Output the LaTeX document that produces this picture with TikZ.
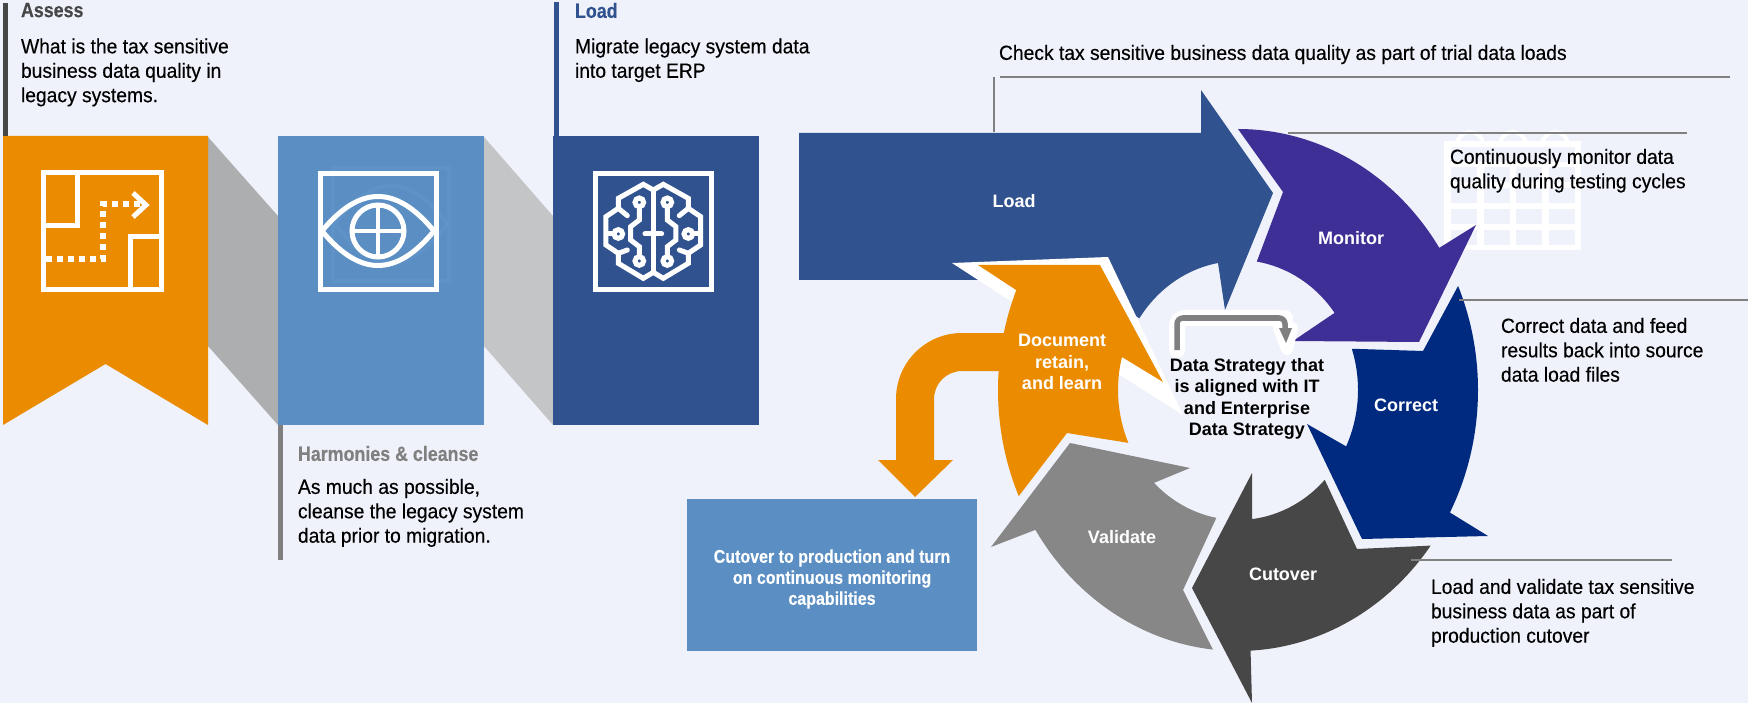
\documentclass[tikz,border=0pt]{standalone}
\usepackage{fontspec}
\setmainfont{Liberation Sans}
\newfontfamily\franklin[FakeStretch=.94,FakeBold=.3,BoldFeatures={FakeStretch=.87}]{Liberation Sans}
\usetikzlibrary{positioning,arrows.meta}
\definecolor{pagebg}{HTML}{EFF2FA}
\definecolor{taxorange}{HTML}{EB8C00}
\definecolor{midblue}{HTML}{5B8FC4}
\definecolor{ghostblue}{HTML}{5F93C8}
\definecolor{deepblue}{HTML}{30538F}
\definecolor{purpleflow}{HTML}{3D2F96}
\definecolor{navyflow}{HTML}{002A7F}
\definecolor{darkflow}{HTML}{474747}
\definecolor{greyflow}{HTML}{878787}
\definecolor{rulegrey}{HTML}{808080}
\definecolor{bandgrey}{HTML}{ADAEB0}
\definecolor{bandlight}{HTML}{C4C5C7}
\tikzset{
    panel box/.style={
        rectangle,
        minimum width=206pt,
        minimum height=289pt,
        draw=none,
        inner sep=0pt,
        outer sep=0pt
    },
    side band/.style={fill=#1, draw=none},
    step rule/.style={draw=#1, line width=5pt},
    leader line/.style={draw=rulegrey, line width=1.6pt},
    note text/.style={
        font=\franklin\fontsize{20.5}{24.4}\selectfont,
        text=black,
        anchor=north west,
        align=left,
        inner sep=0pt,
        outer sep=0pt
    },
    step title/.style={
        font=\franklin\bfseries\fontsize{20.5}{24.4}\selectfont,
        text=#1,
        anchor=north west,
        inner sep=0pt,
        outer sep=0pt
    },
    flow label/.style={
        font=\bfseries\fontsize{18}{21.5}\selectfont,
        text=#1,
        align=center,
        inner sep=0pt
    },
    icon line/.style={draw=white, line width=5pt},
    outer ring/.style={x radius=240, y radius=261},
    inner ring/.style={x radius=120, y radius=130}
}

\begin{document}
\begin{tikzpicture}[x=1pt, y=-1pt, line join=miter]
\useasboundingbox[fill=pagebg] (0,0) rectangle (1748,703);
\coordinate (ring) at (1238,390);

% Grey bands between the three panels
\fill[side band=bandgrey] (208,137) -- (278,216) -- (278,425) -- (208,346) -- cycle;
\fill[side band=bandlight] (484,137) -- (553,216) -- (553,425) -- (484,346) -- cycle;

% Panels
\fill[taxorange] (3,136) -- (208,136) -- (208,425) -- (105.5,364) -- (3,425) -- cycle;
\node[panel box, fill=midblue, anchor=north west] (cleanse box) at (278,136) {};
\node[panel box, fill=deepblue, anchor=north west] (load box) at (553,136) {};

% Rules beside the step texts
\draw[step rule=darkflow] (5.5,3) -- (5.5,136);
\draw[step rule=deepblue] (556,2) -- (556,136);
\draw[step rule=rulegrey] (280.5,425) -- (280.5,560);

% Assess icon
\draw[icon line] (43,173) rectangle (161,290);
\draw[icon line] (77,173) -- (77,226) -- (43,226);
\draw[icon line] (130,290) -- (130,237) -- (161,237);
\draw[icon line, line width=5.5pt, dash pattern=on 6pt off 5pt] (46,259) -- (103,259) -- (103,204) -- (140,204);
\draw[icon line] (133,193) -- (146,205) -- (133,217);

% Harmonise icon
\begin{scope}[shift={(13,-7)}, draw=ghostblue]
\draw[line width=4pt] (320,175) rectangle (436,288);
\draw[line width=4pt] (322,231) .. controls (360,180) and (396,180) .. (434,231) .. controls (396,282) and (360,282) .. (322,231);
\end{scope}
\draw[icon line] (320,174) rectangle (436,290);
\draw[icon line] (322,231) .. controls (360,185) and (396,185) .. (434,231) .. controls (396,277) and (360,277) .. (322,231);
\draw[icon line] (378,231) circle (26);
\draw[icon line, line width=4pt] (352,231) -- (404,231) (378,205) -- (378,257);

% Load icon
\draw[icon line] (595.5,173.5) rectangle (711.5,289.5);
\begin{scope}[shift={(653.3,165)}, x=0.3333pt, y=-0.3333pt]
\draw[icon line, line width=5pt] (0,75) -- (0,322);
\draw[icon line, line width=5pt, line cap=round] (-25,207) -- (25,207);
\foreach \m in {1,-1} {
\begin{scope}[xscale=\m]
\draw[icon line, line width=5pt] (0,75) -- (-30,58) -- (-105,100) -- (-105,130) -- (-142,155) -- (-142,240) -- (-105,265) -- (-105,295) -- (-30,340) -- (0,322);
\draw[icon line, line width=5pt] (-42,125) -- (-42,165) -- (-68,185) -- (-68,225) -- (-42,245) -- (-42,275);
\draw[icon line, line width=5pt, line cap=round] (-105,130) -- (-78,152) (-105,265) -- (-78,255);
\draw[icon line, line width=5pt] (-142,207) -- (-118,207);
\draw[icon line, line width=5pt] (-42,112) circle (13) (-42,288) circle (13) (-105,207) circle (13);
\end{scope}
}
\end{scope}

% Calendar behind the monitor text
\fill[white] (1444,141) rectangle (1581,250);
\draw[white, line width=4pt] (1457,145) arc[start angle=180, end angle=360, radius=13];
\draw[white, line width=4pt] (1500,145) arc[start angle=180, end angle=360, radius=13];
\draw[white, line width=4pt] (1542,145) arc[start angle=180, end angle=360, radius=13];
\fill[pagebg] (1451,147) rectangle (1575,162);
\foreach \cx in {1451,1483.5,1516,1548.5} {
\foreach \cy in {167,188,209,230} {
\fill[pagebg] (\cx,\cy) rectangle ++(26,15);
}
}

% Flow arrows
\fill[deepblue] (799,133) -- (1201,133) -- (1201,90) -- (1273,193) -- (1225,310) -- (1218,263)
    arc[start angle=260, end angle=214, inner ring] -- (1080,280) -- (799,280) -- cycle;
\fill[purpleflow] ([shift={(ring)}]-90:240 and 261) arc[start angle=-90, end angle=-33, outer ring]
    -- (1476,225) -- (1419,342) -- (1293,341) -- ([shift={(ring)}]-36.4:120 and 130)
    arc[start angle=-36.4, end angle=-81, inner ring] -- (1283,192) -- cycle;
\fill[navyflow] ([shift={(ring)}]-23.5:240 and 261) arc[start angle=-23.5, end angle=28, outer ring]
    -- (1488,536) -- (1362,539) -- (1307,424) -- ([shift={(ring)}]25.7:120 and 130)
    arc[start angle=25.7, end angle=-18.5, inner ring] -- (1423,351) -- cycle;
\fill[darkflow] (1252,473) -- ([shift={(ring)}]83.3:120 and 130)
    arc[start angle=83.3, end angle=43.7, inner ring] -- (1357,549) -- ([shift={(ring)}]36.6:240 and 261)
    arc[start angle=36.6, end angle=87, outer ring] -- (1252,703) -- (1192,588) -- cycle;
\fill[greyflow] (1070,443) -- (1190,468) -- ([shift={(ring)}]134.4:120 and 130)
    arc[start angle=134.4, end angle=100.4, inner ring] -- (1183,590) -- ([shift={(ring)}]96:240 and 261)
    arc[start angle=96, end angle=147.6, outer ring] -- (991,547) -- cycle;

% Document arrow, white edge first
\fill[white] (952,263) -- (1108,257) -- (1183,415) -- (1120,375) -- (1060,330) -- (1012,302) -- cycle;
\fill[taxorange] (978,265) -- (1100,265) -- (1163,382) -- ([shift={(ring)}]194.7:120 and 130)
    arc[start angle=194.7, end angle=156, inner ring] -- (1067,433) -- ([shift={(ring)}]156:240 and 261)
    arc[start angle=156, end angle=202.5, outer ring] -- cycle;
\fill[taxorange] (1010,333) -- (962,333) arc[start angle=270, end angle=180, radius=66] -- (896,460) -- (878,460)
    -- (915,497) -- (953,460) -- (934,460) -- (934,399) arc[start angle=180, end angle=270, radius=28] -- (1010,371) -- cycle;

% Cutover box
\node[panel box, fill=midblue, minimum width=290pt, minimum height=152pt, anchor=north west] (cutover box) at (687,499) {};
\node[font=\franklin\bfseries\fontsize{18.4}{21}\selectfont, text=white, align=center, inner sep=0pt,
      yshift=-4pt] (cutover text) at (cutover box.center) {Cutover to production and turn\\on continuous monitoring\\capabilities};

% Small arrow above the centre text
\coordinate (strategy start) at (1177,350);
\coordinate (strategy end) at (1286,343);
\draw[white, line width=16pt, rounded corners=8pt, line cap=round] (strategy start) -- (1177,318) -- (1285,318);
\draw[white, line width=12pt, line cap=round, line join=round] (1279,328) -- (1287,349) -- (1292,328);
\draw[rulegrey, line width=5.5pt, rounded corners=6pt] (strategy start) -- (1177,318) -- (1285,318) -- (1285,330);
\fill[rulegrey] (1279,328) -- (strategy end) -- (1292,328) -- cycle;

% Leader lines
\coordinate (check left) at (1000,77);
\coordinate (check right) at (1730,77);
\coordinate (check drop) at (994,77);
\coordinate (check foot) at (994,132);
\coordinate (monitor left) at (1288,133);
\coordinate (monitor right) at (1687,133);
\coordinate (correct left) at (1459,300);
\coordinate (correct right) at (1748,300);
\coordinate (cutover left) at (1411,560);
\coordinate (cutover right) at (1672,560);
\draw[leader line] (check left) -- (check right);
\draw[leader line] (check drop) -- (check foot);
\draw[leader line] (monitor left) -- (monitor right);
\draw[leader line] (correct left) -- (correct right);
\draw[leader line] (cutover left) -- (cutover right);

% Labels on the arrows
\node[flow label=white] (load label) at (1014,201) {Load};
\node[flow label=white] (monitor label) at (1351,238) {Monitor};
\node[flow label=white] (correct label) at (1406,405) {Correct};
\node[flow label=white] (cutover label) at (1283,574) {Cutover};
\node[flow label=white] (validate label) at (1122,537) {Validate};
\node[flow label=white] (document label) at (1062,362) {Document\\retain,\\and learn};
\node[flow label=black] (strategy label) at (1247,399) {Data Strategy that\\is aligned with IT\\and Enterprise\\Data Strategy};

% Step texts
\node[step title=darkflow] (assess title) at (21,3) {Assess};
\node[note text] (assess note) at (21,38.5) {What is the tax sensitive\\business data quality in\\legacy systems.};
\node[step title=deepblue] (load title) at (575,3) {Load};
\node[note text] (load note) at (575,38.5) {Migrate legacy system data\\into target ERP};
\node[step title=rulegrey] (cleanse title) at (298,446) {Harmonies \& cleanse};
\node[note text] (cleanse note) at (298,479) {As much as possible,\\cleanse the legacy system\\data prior to migration.};

% Notes on the right
\node[note text] (check note) at (999,45) {Check tax sensitive business data quality as part of trial data loads};
\node[note text] (monitor note) at (1450,149) {Continuously monitor data\\quality during testing cycles};
\node[note text] (correct note) at (1501,318) {Correct data and feed\\results back into source\\data load files};
\node[note text] (cutover note) at (1431,579) {Load and validate tax sensitive\\business data as part of\\production cutover};
\end{tikzpicture}
\end{document}
